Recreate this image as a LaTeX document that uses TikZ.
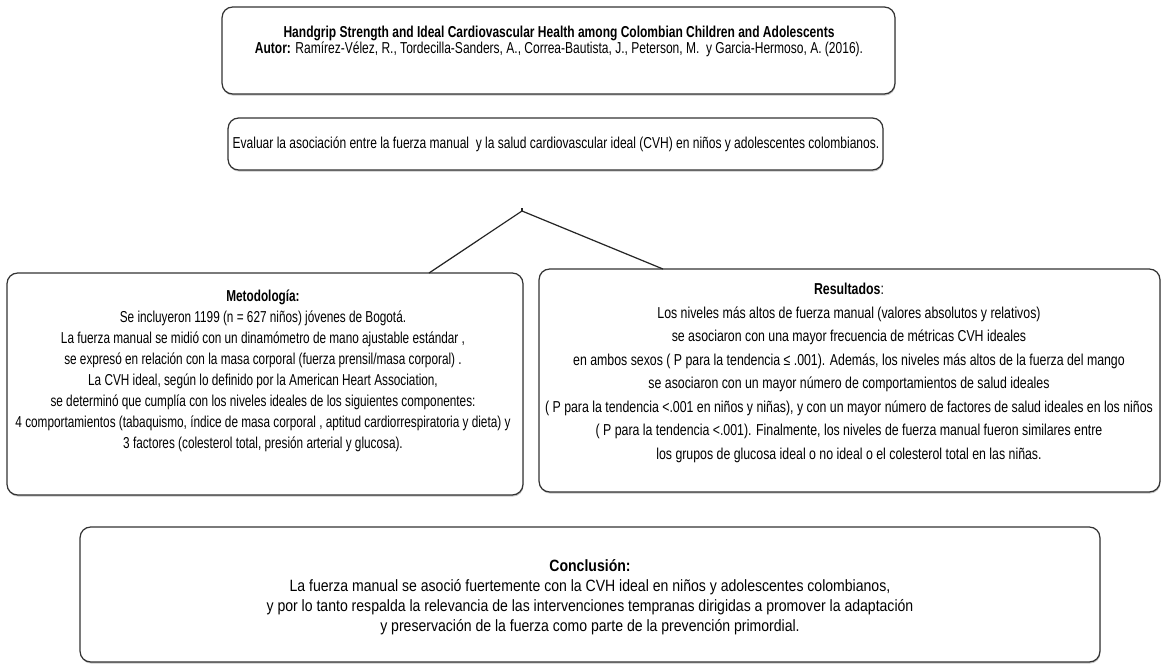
\documentclass[tikz,border=0pt]{standalone}
\usepackage{fontspec}
\setmainfont[FakeStretch=0.76]{Liberation Sans}
\newfontfamily\metfont[FakeStretch=0.745]{Liberation Sans}
\newfontfamily\resfont[FakeStretch=0.78]{Liberation Sans}
\newfontfamily\concfont[FakeStretch=0.86]{Liberation Sans}
\usetikzlibrary{shadows}

\tikzset{
  box/.style={draw=black!80, rounded corners=6pt, fill=white, inner sep=0pt, outer sep=0pt, line width=0.7pt,
    drop shadow={shadow xshift=0.3pt, shadow yshift=-0.9pt, opacity=0.45}},
  txt/.style={align=center, inner sep=0pt, font=\fontsize{9}{12}\selectfont},
  link/.style={line width=0.7pt, black!85}
}

\begin{document}
\begin{tikzpicture}[x=0.02cm, y=-0.02cm]
	\useasboundingbox (0,0) rectangle (1164,672);

	% cuadros
	\node[box, minimum width=13.46cm, minimum height=1.74cm] (titulo) at (558.5,50.5) {};
	\node[box, minimum width=13.1cm, minimum height=1.04cm] (objetivo) at (555.5,144) {};
	\node[box, minimum width=10.32cm, minimum height=4.44cm] (metodo) at (265,384) {};
	\node[box, minimum width=12.42cm, minimum height=4.46cm] (resultado) at (849.5,380.5) {};
	\node[box, minimum width=20.4cm, minimum height=2.7cm] (conclusion) at (590,594.5) {};

	% textos
	\node[txt, font=\fontsize{9}{9.4}\selectfont] (titulotxt) at (559,41.5)
		{\textbf{Handgrip Strength and Ideal Cardiovascular Health among Colombian Children and Adolescents}\\
		 \textbf{Autor:} Ramírez-Vélez, R., Tordecilla-Sanders, A., Correa-Bautista, J., Peterson, M.\ \ y Garcia-Hermoso, A. (2016).};
	\node[txt] (objetivotxt) at (556,144)
		{Evaluar la asociación entre la fuerza manual\ \ y la salud cardiovascular ideal (CVH) en niños y adolescentes colombianos.};
	\node[txt, font=\metfont\fontsize{9}{12}\selectfont] (metodotxt) at (263,371)
		{\textbf{Metodología:}\\
		 Se incluyeron 1199 (n = 627 niños) jóvenes de Bogotá.\\
		 La fuerza manual se midió con un dinamómetro de mano ajustable estándar ,\\
		 se expresó en relación con la masa corporal (fuerza prensil/masa corporal) .\\
		 La CVH ideal, según lo definido por la American Heart Association,\\
		 se determinó que cumplía con los niveles ideales de los siguientes componentes:\\
		 4 comportamientos (tabaquismo, índice de masa corporal , aptitud cardiorrespiratoria y dieta) y\\
		 3 factores (colesterol total, presión arterial y glucosa).};
	\node[txt, font=\resfont\fontsize{9}{13.4}\selectfont] (resultadotxt) at (849,373)
		{\textbf{Resultados}:\\
		 Los niveles más altos de fuerza manual (valores absolutos y relativos)\\
		 se asociaron con una mayor frecuencia de métricas CVH ideales\\
		 en ambos sexos ( P para la tendencia ≤ .001). Además, los niveles más altos de la fuerza del mango\\
		 se asociaron con un mayor número de comportamientos de salud ideales\\
		 ( P para la tendencia <.001 en niños y niñas), y con un mayor número de factores de salud ideales en los niños\\
		 ( P para la tendencia <.001). Finalmente, los niveles de fuerza manual fueron similares entre\\
		 los grupos de glucosa ideal o no ideal o el colesterol total en las niñas.};
	\node[txt, font=\concfont\fontsize{9.3}{11.4}\selectfont] (conclusiontxt) at (590,597)
		{\textbf{Conclusión:}\\
		 La fuerza manual se asoció fuertemente con la CVH ideal en niños y adolescentes colombianos,\\
		 y por lo tanto respalda la relevancia de las intervenciones tempranas dirigidas a promover la adaptación\\
		 y preservación de la fuerza como parte de la prevención primordial.};

	% conectores
	\coordinate (vertice) at (522,211);
	\draw[link] (vertice) -- ++(0,-3);
	\draw[link] (vertice) -- (metodo.north -| 429,0);
	\draw[link] (vertice) -- (resultado.north -| 663,0);
\end{tikzpicture}
\end{document}
